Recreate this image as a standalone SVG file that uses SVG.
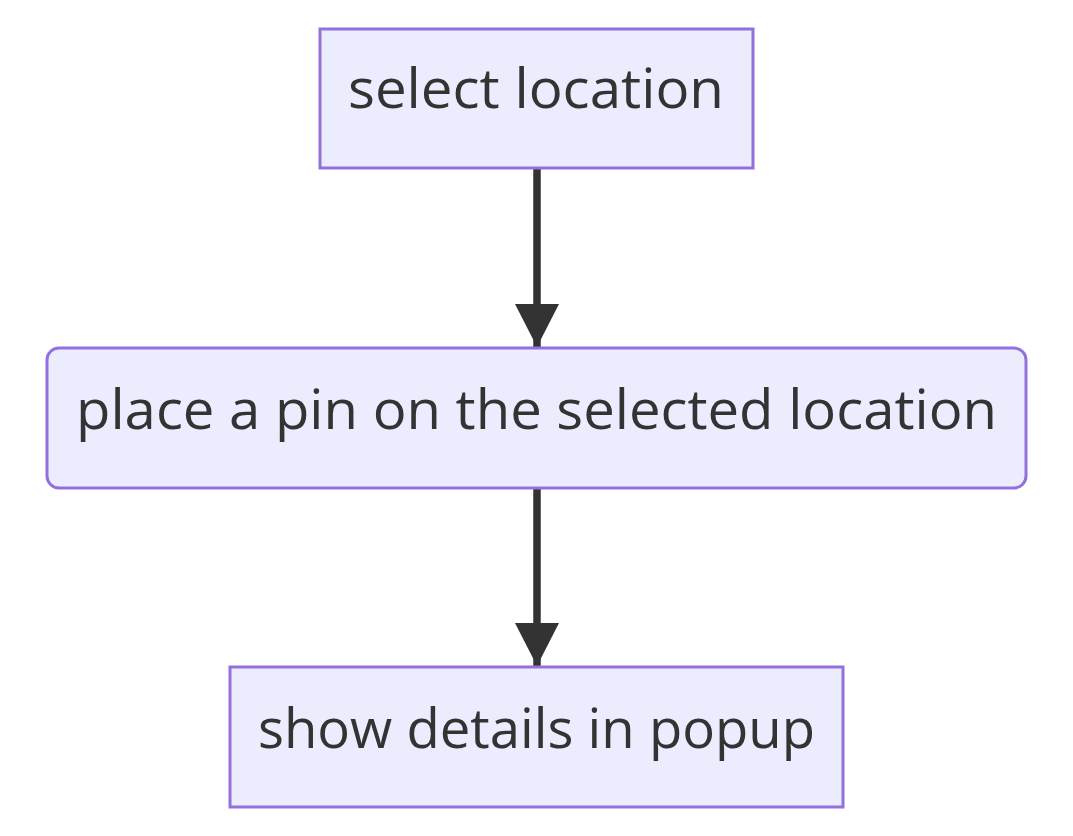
<svg xmlns="http://www.w3.org/2000/svg" width="1073" height="836" viewBox="0 0 1073 836">
<style>
.node rect{fill:#ECECFF;stroke:#9370DB;stroke-width:3}
.node text{font-family:"Open Sans","DejaVu Sans",sans-serif;font-size:54px;fill:#333;text-anchor:middle}
.edge{stroke:#333;stroke-width:7.5;fill:none}
</style>
<defs>
<marker id="arrow" markerUnits="userSpaceOnUse" markerWidth="44" markerHeight="44" refX="43" refY="22" orient="auto">
<path d="M0,0 L43,22 L0,44 Z" fill="#333"/>
</marker>
</defs>
<rect width="1073" height="836" fill="#fff"/>
<g id="edges">
<line class="edge" x1="537" y1="169" x2="537" y2="347" marker-end="url(#arrow)"/>
<line class="edge" x1="537" y1="489" x2="537" y2="666" marker-end="url(#arrow)"/>
</g>
<g id="n1" class="node">
<rect x="320" y="29" width="433" height="139"/>
<text x="536" y="108" textLength="376" lengthAdjust="spacingAndGlyphs">select location</text>
</g>
<g id="n2" class="node">
<rect x="47" y="348" width="979" height="140" rx="12" ry="12"/>
<text x="536.5" y="429" textLength="921" lengthAdjust="spacingAndGlyphs">place a pin on the selected location</text>
</g>
<g id="n3" class="node">
<rect x="230" y="667" width="613" height="140"/>
<text x="536.5" y="748" textLength="557" lengthAdjust="spacingAndGlyphs">show details in popup</text>
</g>
</svg>
